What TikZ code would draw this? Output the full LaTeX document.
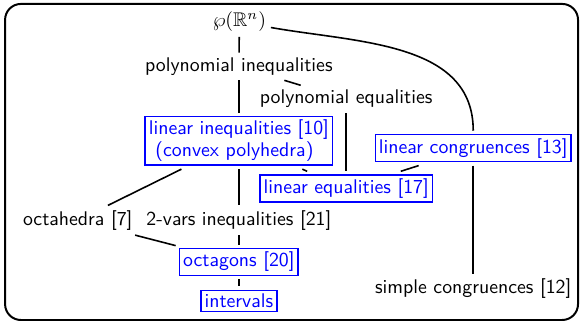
\documentclass[tikz,border=0pt]{standalone}
\usepackage{amsmath}
\usepackage{amssymb}
\usepackage{tikz}
\usetikzlibrary{arrows,backgrounds}
\newcommand{\latfont}{\linespread{1}\fontsize{10}{11}\selectfont\sffamily}
\tikzset{
    lat/chart/.style={font=\latfont, every node/.style={align=center}},
    lat/domain/.style={inner sep=2.3pt},
    lat/impl/.style={rectangle, draw=blue, text=blue, line width=0.8pt, inner sep=1.8pt, outer sep=2pt},
    lat/edge/.style={line width=0.8pt, draw=black},
    lat/frame/.style={line width=1pt, draw=black, rounded corners=8pt}
}
\begin{document}
\begin{tikzpicture}[lat/chart]
    \useasboundingbox (0,0) rectangle (10.295,-5.733);
    \draw[lat/frame] (0.09,-0.07) rectangle (10.26,-5.68);
    \node[lat/domain] (pset) at (4.25,-0.39) {$\wp(\mathbb{R}^n)$};
    \node[lat/domain] (polyineq) at (4.24,-1.18) {polynomial inequalities};
    \node[lat/domain] (polyeq) at (6.145,-1.76) {polynomial equalities};
    \node[lat/impl, align=left] (linineq) at (4.24,-2.50) {linear inequalities [10]\\\ (convex polyhedra)};
    \node[lat/impl] (lincong) at (8.40,-2.63) {linear congruences [13]};
    \node[lat/impl] (lineq) at (6.145,-3.35) {linear equalities [17]};
    \node[lat/domain] (octahedra) at (1.38,-3.91) {octahedra [7]};
    \node[lat/domain] (twovars) at (4.24,-3.91) {2-vars inequalities [21]};
    \node[lat/impl] (octagons) at (4.24,-4.65) {octagons [20]};
    \node[lat/impl] (intervals) at (4.24,-5.34) {intervals};
    \node[lat/domain] (simplecong) at (8.40,-5.13) {simple congruences [12]};
    \foreach \source/\target in {pset/polyineq,polyineq/polyeq,polyineq/linineq,polyeq/lineq,linineq/lineq,linineq/octahedra,linineq/twovars,lincong/lineq,lincong/simplecong,octahedra/octagons,twovars/octagons,octagons/intervals}
        \draw[lat/edge] (\source) -- (\target);
    \draw[lat/edge] (pset) to[out=-10,in=90] (lincong);
\end{tikzpicture}
\end{document}
